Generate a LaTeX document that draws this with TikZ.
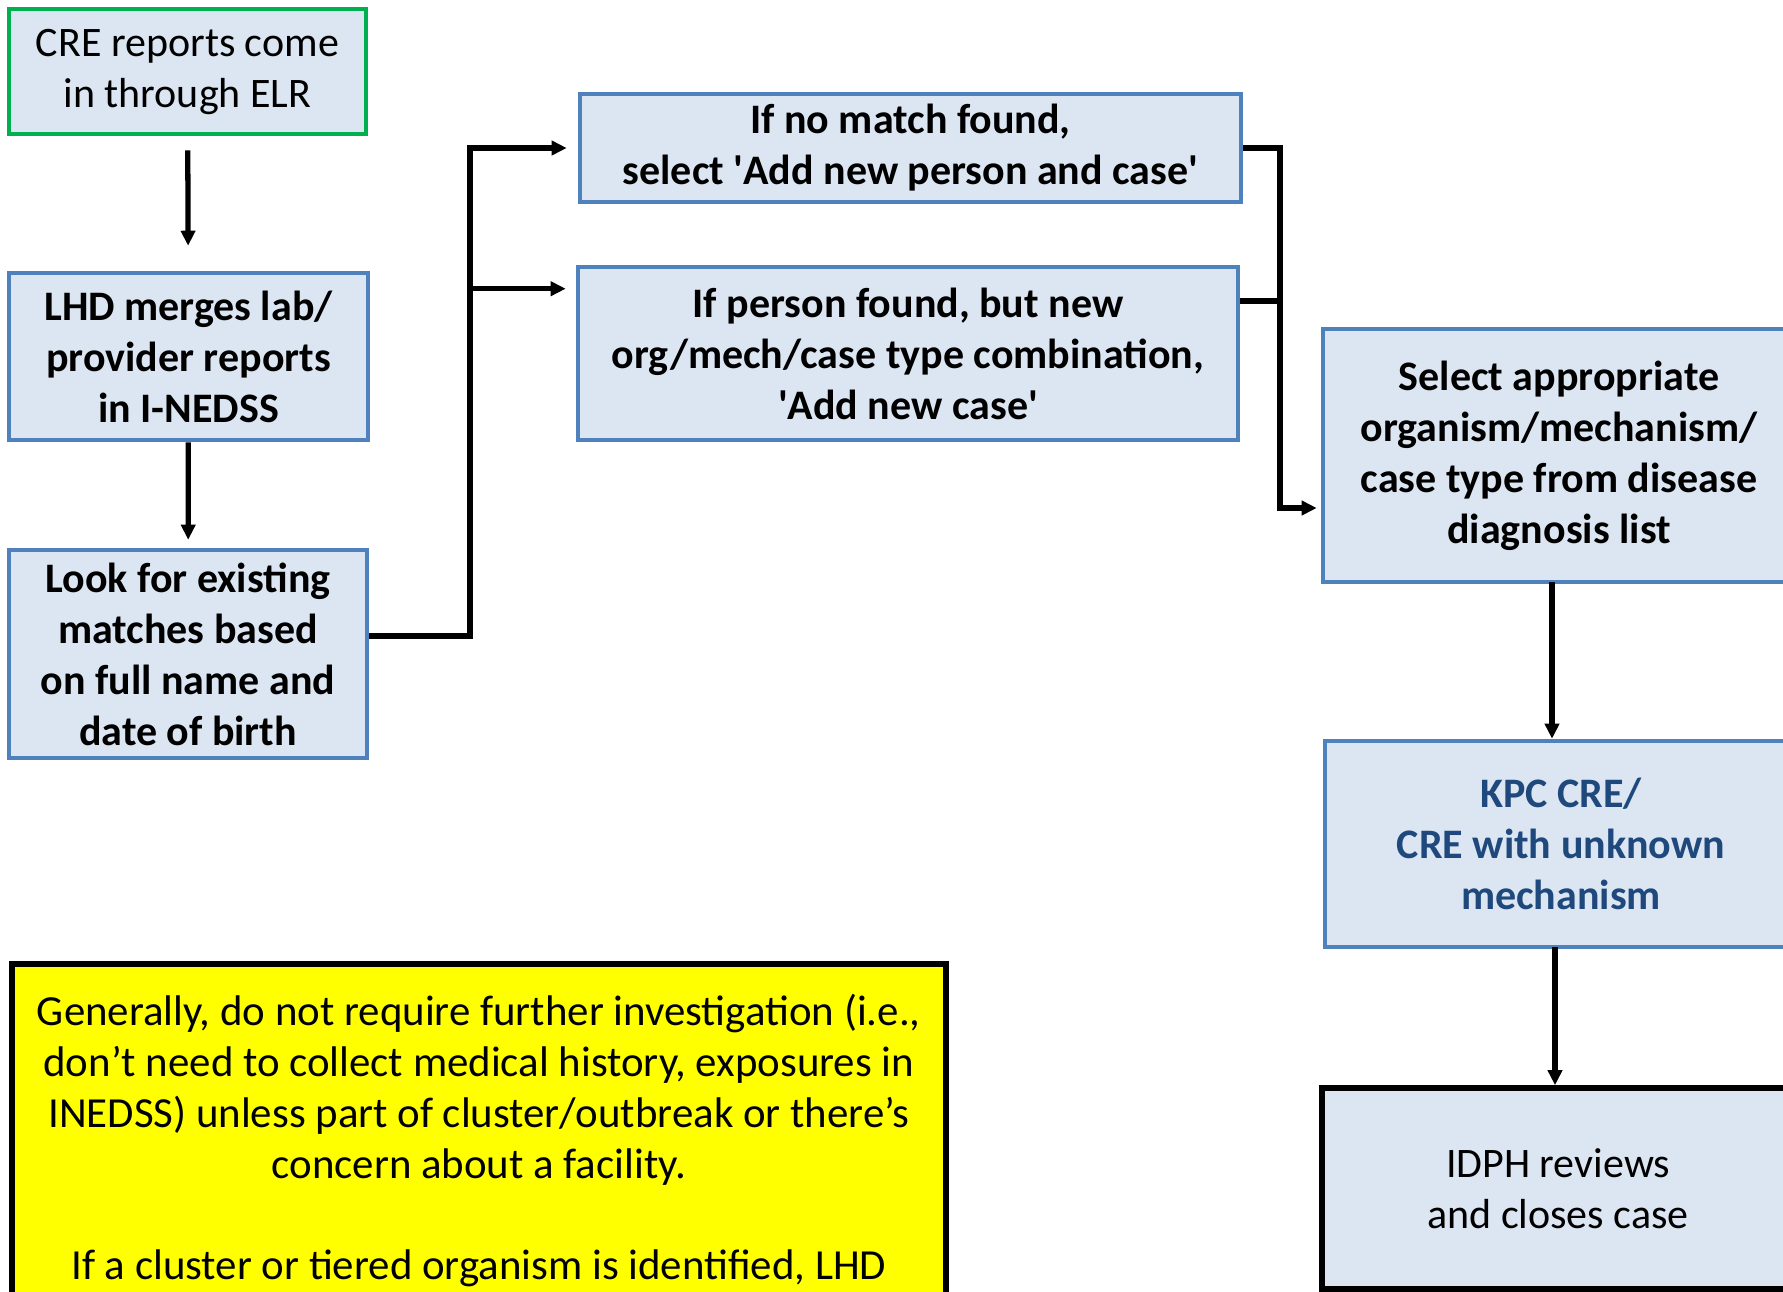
\documentclass[tikz,border=0pt]{standalone}
\usepackage{fontspec}
\setmainfont{Carlito}
\usepackage{tikz}
\usetikzlibrary{arrows.meta,calc}
\usepackage{xcolor}
\definecolor{boxfill}{RGB}{220,230,242}
\definecolor{boxline}{RGB}{79,129,189}
\definecolor{elrgreen}{RGB}{0,176,80}
\definecolor{kpcblue}{RGB}{31,73,125}
\definecolor{noteyellow}{RGB}{255,255,0}

\begin{document}
\begin{tikzpicture}[>={Triangle[length=0.3cm,width=0.28cm]},
    box/.style={draw=boxline, fill=boxfill, line width=2.6pt, align=center,
        font=\fontsize{23.9pt}{29pt}\selectfont, inner sep=0pt},
    boldbox/.style={box, font=\fontsize{23.9pt}{29pt}\selectfont\bfseries},
    arr/.style={->, line width=3pt},
    wire/.style={line width=3pt}]
    \useasboundingbox (0,0) rectangle (35.66,-25.82);
    % left column
    \node[box, draw=elrgreen, minimum width=7.14cm, minimum height=2.5cm] (cre) at (3.75,-1.43)
        {CRE reports come\\in through ELR};
    \node[boldbox, minimum width=7.18cm, minimum height=3.34cm] (lhd) at (3.77,-7.13)
        {LHD merges lab/\\provider reports\\in I-NEDSS};
    \node[boldbox, minimum width=7.16cm, minimum height=4.16cm] (look) at (3.76,-13.08)
        {Look for existing\\matches based\\on full name and\\date of birth};
    % middle column
    \node[boldbox, minimum width=13.22cm, minimum height=2.16cm] (nomatch) at (18.21,-2.96)
        {If no match found,\\select \textquotesingle Add new person and case\textquotesingle};
    \node[boldbox, minimum width=13.2cm, minimum height=3.46cm] (person) at (18.16,-7.07)
        {If person found, but new\\org/mech/case type combination,\\\textquotesingle Add new case\textquotesingle};
    % right column
    \node[boldbox, minimum width=9.44cm, minimum height=5.06cm] (select) at (31.18,-9.11)
        {Select appropriate\\organism/mechanism/\\case type from disease\\diagnosis list};
    \node[boldbox, text=kpcblue, minimum width=9.44cm, minimum height=4.12cm] (kpc) at (31.22,-16.88)
        {KPC CRE/\\CRE with unknown\\mechanism};
    \node[box, draw=black, line width=3.2pt, minimum width=9.44cm, minimum height=4.02cm] (idph) at (31.16,-23.77)
        {IDPH reviews\\and closes case};
    % note
    \node[box, draw=black, fill=noteyellow, line width=3.2pt, anchor=north west, minimum width=18.68cm,
        inner ysep=0.6cm, font=\fontsize{24.4pt}{29pt}\selectfont] (note) at (0.18,-19.22)
        {Generally, do not require further investigation (i.e.,\\don’t need to collect medical history, exposures in\\INEDSS) unless part of cluster/outbreak or there’s\\concern about a facility.\\~\\If a cluster or tiered organism is identified, LHD};
    % connectors
    \coordinate (jl) at (9.4,-12.72);
    \coordinate (pin) at ([yshift=-0.48cm]person.north west);
    \coordinate (jr) at (25.6,-10.16);
    \coordinate (pout) at ([yshift=1.05cm]person.east);
    \coordinate (sout) at (31.04,-11.64);
    \coordinate (kout) at (31.1,-18.94);
    \draw[arr, shorten <=0.28cm, shorten >=0.5cm] (cre) -- (lhd);
    \draw[arr, shorten >=0.16cm] (lhd) -- (look);
    \draw[arr, shorten >=0.22cm] (look.east |- jl) -- (jl) |- (nomatch.west);
    \draw[arr, shorten >=0.2cm] (jl |- pin) -- (pin);
    \draw[arr, shorten >=0.08cm] (nomatch.east) -| (jr) -- (select.west |- jr);
    \draw[wire] (pout) -- (jr |- pout);
    \draw[arr] (sout) -- (sout |- kpc.north);
    \draw[arr] (kout) -- (kout |- idph.north);
\end{tikzpicture}
\end{document}
